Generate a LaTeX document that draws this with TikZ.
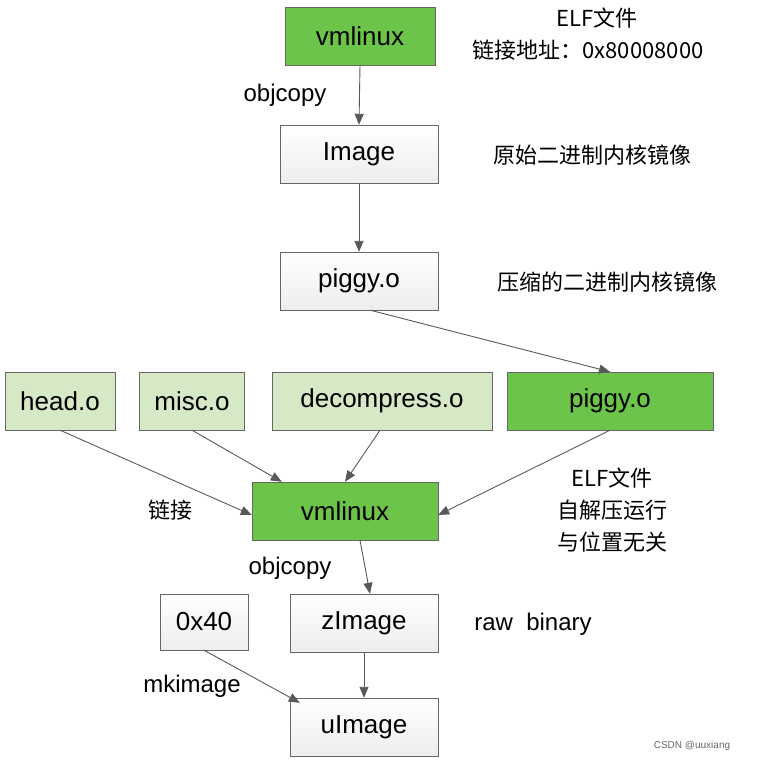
\documentclass[tikz,border=0pt]{standalone}
\usepackage{fontspec}
\setmainfont{Liberation Sans}
\newfontfamily\cjk{Noto Sans CJK SC}
\usetikzlibrary{arrows.meta}
\definecolor{dg}{HTML}{6CC44A}
\definecolor{lg}{HTML}{D6E9C6}
\begin{document}
\begin{tikzpicture}[x=1pt,y=-1pt,
 box/.style={draw=black!60,minimum height=58pt,inner sep=0pt,font=\fontsize{26}{28}\selectfont},
 wbox/.style={box,top color=white,bottom color=black!7},
 gbox/.style={box,fill=dg},
 lbox/.style={box,fill=lg},
 lab/.style={font=\fontsize{24}{26}\selectfont},
 cl/.style={font=\cjk\fontsize{22}{24}\selectfont},
 arr/.style={draw=black!65,line width=0.9pt,-{Triangle[length=11pt,width=9pt]}}]
\useasboundingbox (0,0) rectangle (758,761);
\node[gbox,minimum width=150pt] (v1) at (360,36) {vmlinux};
\node[wbox,minimum width=158pt] (im) at (359,154) {Image};
\node[wbox,minimum width=158pt] (p1) at (359,281) {piggy.o};
\node[lbox,minimum width=110pt] (h) at (60,401) {head.o};
\node[lbox,minimum width=105pt] (m) at (192,401) {misc.o};
\node[lbox,minimum width=220pt] (d) at (382,401) {decompress.o};
\node[gbox,minimum width=206pt] (p2) at (610,401) {piggy.o};
\node[gbox,minimum width=186pt] (v2) at (345,511) {vmlinux};
\node[wbox,minimum width=88pt,minimum height=56pt] (x) at (204,622) {0x40};
\node[wbox,minimum width=148pt] (z) at (364,623) {zImage};
\node[wbox,minimum width=148pt] (u) at (364,727) {uImage};
\node[cl] (t1) at (597,18) {ELF文件};
\node[cl] (t2) at (588,50) {链接地址：0x80008000};
\node[lab] (o1) at (285,95) {objcopy};
\node[cl] (t3) at (592,155) {原始二进制内核镜像};
\node[cl] (t4) at (607,282) {压缩的二进制内核镜像};
\node[cl] (t5) at (170,510) {链接};
\node[cl] (t6) at (612,478) {ELF文件};
\node[cl] (t7) at (612,510) {自解压运行};
\node[cl] (t8) at (612,542) {与位置无关};
\node[lab] (o2) at (290,568) {objcopy};
\node[lab] (rb) at (533,624) {raw\ \ binary};
\node[lab] (mk) at (192,686) {mkimage};
\node[font=\fontsize{10}{12}\selectfont,text=black!60] (cs) at (692,746) {CSDN @uuxiang};
\draw[arr] (v1.south) -- (im.north);
\draw[arr] (im.south) -- (p1.north);
\draw[arr] (p1.south east) ++(-68,0) coordinate (a1) (a1) -- (p2.north);
\draw[arr] (h.south) -- ([yshift=-4pt]v2.west);
\draw[arr] (m.south) -- ([xshift=30pt]v2.north west);
\draw[arr] ([xshift=-2pt]d.south) -- ([xshift=0pt]v2.north);
\draw[arr] (p2.south) -- ([yshift=-4pt]v2.east);
\draw[arr] (v2.south) ++(15,0) coordinate (a2) (a2) -- ([xshift=6pt]z.north);
\draw[arr] (x.south) -- ([xshift=10pt,yshift=-5pt]u.north west);
\draw[arr] (z.south) -- (u.north);
\end{tikzpicture}
\end{document}
